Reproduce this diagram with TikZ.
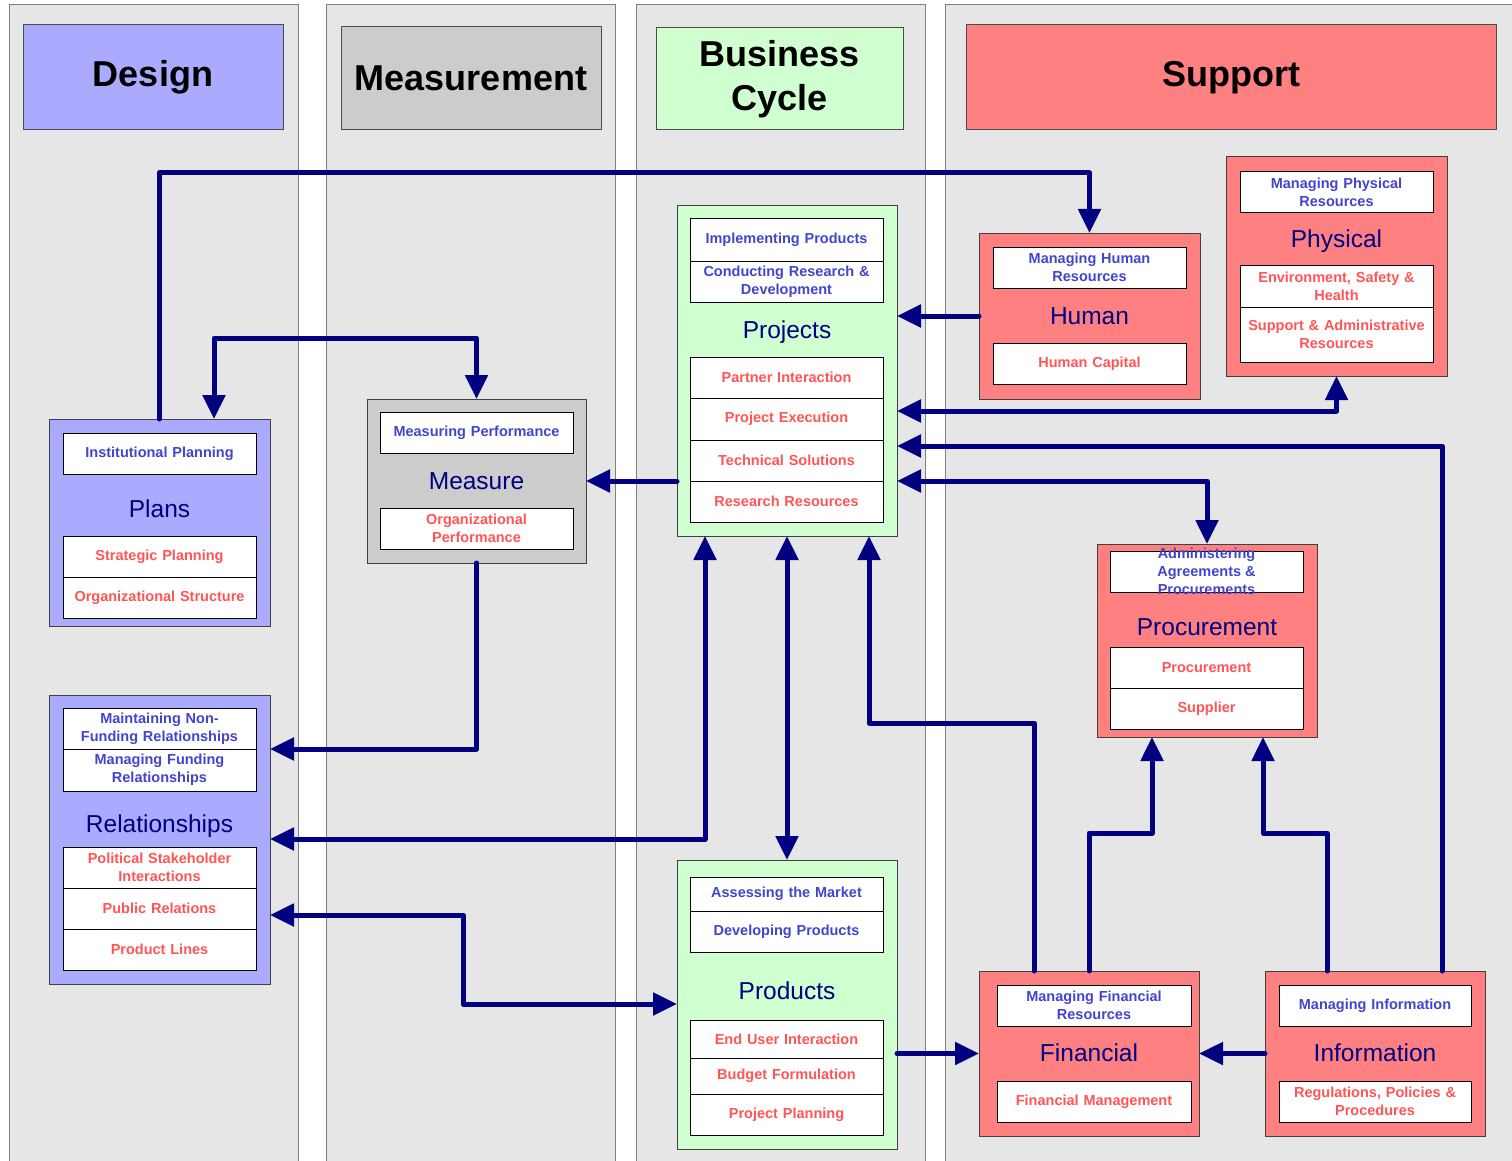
\documentclass[tikz,border=0pt]{standalone}
\usepackage{fontspec}
\setmainfont{Liberation Sans}
\usetikzlibrary{arrows.meta}
\definecolor{laneg}{HTML}{E6E6E6}
\definecolor{dsgn}{HTML}{AAAAFF}
\definecolor{meas}{HTML}{CCCCCC}
\definecolor{bizc}{HTML}{D0FFD0}
\definecolor{supp}{HTML}{FF8080}
\definecolor{navyc}{HTML}{000080}
\definecolor{iblue}{HTML}{4444CC}
\definecolor{ired}{HTML}{FF5555}
\newcommand\itemfont{\fontsize{14.5}{18}\selectfont\bfseries}
\newcommand\ttlfont{\fontsize{24.5}{28}\selectfont}
\newcommand\hdrfont{\fontsize{36}{44}\selectfont\bfseries}
\tikzset{
  lane/.style={draw=black!50, fill=laneg, line width=1pt},
  hdr/.style={draw=black!70, line width=1pt, anchor=north west, inner sep=0pt, outer sep=0pt, align=center, font=\hdrfont, text=black},
  cont/.style={draw=black!75, line width=1pt, anchor=north west, inner sep=0pt, outer sep=0pt},
  item/.style={draw=black, fill=white, line width=1pt, anchor=north west, inner sep=0pt, outer sep=0pt, text width=193pt, align=center, font=\itemfont},
  bl/.style={item, text=iblue},
  rd/.style={item, text=ired},
  ttl/.style={font=\ttlfont, text=navyc, inner sep=0pt},
  conn/.style={draw=navyc, line width=5pt, line cap=round, line join=round, arrows={-Triangle[length=24pt,width=22pt]}},
  conn2/.style={conn, arrows={Triangle[length=24pt,width=22pt]-Triangle[length=24pt,width=22pt]}}
}
\begin{document}
\begin{tikzpicture}[x=1pt,y=-1pt]
\useasboundingbox (0,0) rectangle (1512,1161);
\fill[white] (0,0) rectangle (1512,1161);
% lanes
\draw[lane] (9,5) rectangle (298,1180);
\draw[lane] (326,5) rectangle (615,1180);
\draw[lane] (636,5) rectangle (925,1180);
\draw[lane] (945,5) rectangle (1530,1180);
% headers
\node[hdr, fill=dsgn, minimum width=260pt, minimum height=105pt] (hdesign) at (23,25) {Design};
\node[hdr, fill=meas, minimum width=260pt, minimum height=103pt] (hmeas) at (341,27) {Measurement};
\node[hdr, fill=bizc, minimum width=247pt, minimum height=102pt] (hbiz) at (656,28) {Business\\Cycle};
\node[hdr, fill=supp, minimum width=530pt, minimum height=105pt] (hsupp) at (966,25) {Support};
% containers
\node[cont, fill=dsgn, minimum width=221pt, minimum height=207pt] (plans) at (49,419) {};
\node[cont, fill=meas, minimum width=219pt, minimum height=164pt] (measure) at (367,399) {};
\node[cont, fill=bizc, minimum width=220pt, minimum height=330pt] (projects) at (677,206) {};
\node[cont, fill=supp, minimum width=221pt, minimum height=166pt] (human) at (979,233) {};
\node[cont, fill=supp, minimum width=221pt, minimum height=219pt] (physical) at (1226,157) {};
\node[cont, fill=supp, minimum width=220pt, minimum height=193pt] (procure) at (1097,544) {};
\node[cont, fill=dsgn, minimum width=221pt, minimum height=289pt] (relat) at (49,695) {};
\node[cont, fill=bizc, minimum width=220pt, minimum height=289pt] (products) at (677,860) {};
\node[cont, fill=supp, minimum width=220pt, minimum height=165pt] (financial) at (979,971) {};
\node[cont, fill=supp, minimum width=220pt, minimum height=165pt] (info) at (1265,971) {};
% Plans
\node[bl, minimum height=41pt] (pl1) at (63,433) {Institutional Planning};
\node[ttl] (plt) at (159.5,509) {Plans};
\node[rd, minimum height=41pt] (pl2) at (63,536) {Strategic Planning};
\node[rd, minimum height=41pt] (pl3) at (63,577) {Organizational Structure};
% Measure
\node[bl, minimum height=41pt] (me1) at (380,412) {Measuring Performance};
\node[ttl] (met) at (476.5,481) {Measure};
\node[rd, minimum height=41pt] (me2) at (380,508) {Organizational\\Performance};
% Projects
\node[bl, minimum height=42pt] (pr1) at (690,219) {Implementing Products};
\node[bl, minimum height=41pt] (pr2) at (690,261) {Conducting Research \&\\Development};
\node[ttl] (prt) at (787,332) {Projects};
\node[rd, minimum height=41pt] (pr3) at (690,357) {Partner Interaction};
\node[rd, minimum height=42pt] (pr4) at (690,398) {Project Execution};
\node[rd, minimum height=41pt] (pr5) at (690,440) {Technical Solutions};
\node[rd, minimum height=41pt] (pr6) at (690,481) {Research Resources};
% Human
\node[bl, minimum height=41pt] (hu1) at (993,247) {Managing Human\\Resources};
\node[ttl] (hut) at (1089.5,316) {Human};
\node[rd, minimum height=41pt] (hu2) at (993,343) {Human Capital};
% Physical
\node[bl, minimum height=41pt] (ph1) at (1240,172) {Managing Physical\\Resources};
\node[ttl] (pht) at (1336.5,241) {Physical};
\node[rd, minimum height=42pt] (ph2) at (1240,265) {Environment, Safety \&\\Health};
\node[rd, minimum height=55pt] (ph3) at (1240,307) {Support \& Administrative\\Resources};
% Procurement
\node[item, minimum height=41pt, label={[font=\itemfont, text=iblue, align=center, inner sep=0pt]center:Administering\\Agreements \&\\Procurements}] (pc1) at (1110,551) {};
\node[ttl] (pct) at (1207,627) {Procurement};
\node[rd, minimum height=41pt] (pc2) at (1110,647) {Procurement};
\node[rd, minimum height=41pt] (pc3) at (1110,688) {Supplier};
% Relationships
\node[bl, minimum height=41pt] (re1) at (63,708) {Maintaining Non-\\Funding Relationships};
\node[bl, minimum height=42pt] (re2) at (63,749) {Managing Funding\\Relationships};
\node[ttl] (ret) at (159.5,826) {Relationships};
\node[rd, minimum height=41pt] (re3) at (63,847) {Political Stakeholder\\Interactions};
\node[rd, minimum height=41pt] (re4) at (63,888) {Public Relations};
\node[rd, minimum height=41pt] (re5) at (63,929) {Product Lines};
% Products
\node[bl, minimum height=34pt] (po1) at (690,877) {Assessing the Market};
\node[bl, minimum height=41pt] (po2) at (690,911) {Developing Products};
\node[ttl] (pot) at (787,991) {Products};
\node[rd, minimum height=38pt] (po3) at (690,1020) {End User Interaction};
\node[rd, minimum height=36pt] (po4) at (690,1058) {Budget Formulation};
\node[rd, minimum height=41pt] (po5) at (690,1094) {Project Planning};
% Financial
\node[bl, minimum height=41pt, text width=194pt] (fi1) at (997,985) {Managing Financial\\Resources};
\node[ttl] (fit) at (1089,1053) {Financial};
\node[rd, minimum height=41pt, text width=194pt] (fi2) at (997,1081) {Financial Management};
% Information
\node[bl, minimum height=41pt, text width=192pt] (in1) at (1279,985) {Managing Information};
\node[ttl] (int) at (1375,1053) {Information};
\node[rd, minimum height=41pt, text width=192pt] (in2) at (1279,1081) {Regulations, Policies \&\\Procedures};
% waypoints
\coordinate (c1) at (159,173);
\coordinate (c2) at (214,338);
\coordinate (c4) at (477,749);
\coordinate (c6) at (1337,411);
\coordinate (c7) at (1442,446);
\coordinate (c8) at (1207,481);
\coordinate (c9) at (705,839);
\coordinate (c11a) at (1034,723);
\coordinate (c11b) at (869,723);
\coordinate (c12a) at (463,915);
\coordinate (c12b) at (463,1004);
\coordinate (c15a) at (1089,833);
\coordinate (c15b) at (1152,833);
\coordinate (c16a) at (1327,833);
\coordinate (c16b) at (1263,833);
% connectors
\draw[conn] (plans.north -| c1) -- (c1) -| (human.north);
\draw[conn2] (plans.north -| c2) -- (c2) -| (measure.north);
\draw[conn] (projects.west |- measure.east) -- (measure.east);
\draw[conn] (measure.south) |- (relat.east |- c4);
\draw[conn] (human.west) -- (projects.east |- human.west);
\draw[conn2] (projects.east |- c6) -| (physical.south);
\draw[conn] (info.north -| c7) |- (projects.east |- c7);
\draw[conn2] (projects.east |- c8) -| (procure.north);
\draw[conn2] (projects.south -| c9) |- (relat.east |- c9);
\draw[conn2] (projects.south) -- (products.north);
\draw[conn] (financial.north -| c11a) -- (c11a) -- (c11b) -- (projects.south -| c11b);
\draw[conn2] (relat.east |- c12a) -- (c12a) -- (c12b) -- (products.west |- c12b);
\draw[conn] (products.east |- financial.west) -- (financial.west);
\draw[conn] (info.west) -- (financial.east);
\draw[conn] (financial.north -| c15a) -- (c15a) -- (c15b) -- (procure.south -| c15b);
\draw[conn] (info.north -| c16a) -- (c16a) -- (c16b) -- (procure.south -| c16b);
\end{tikzpicture}
\end{document}
